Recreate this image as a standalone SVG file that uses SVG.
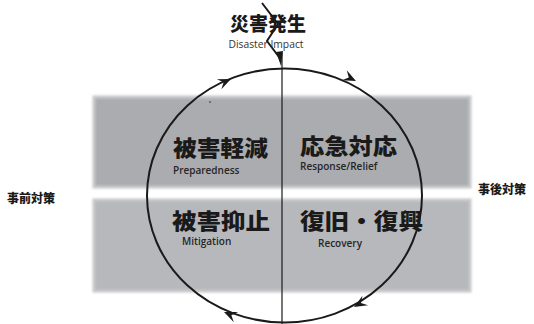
<svg xmlns="http://www.w3.org/2000/svg" width="534" height="324" viewBox="0 0 534 324">
<style>
.band{stroke:#c6c7c9;stroke-width:3}
.jp{font-family:"Noto Sans CJK JP","Noto Sans CJK SC",sans-serif;font-weight:900;fill:#1a1a1a}
.en{font-family:"Open Sans","Liberation Sans",sans-serif;font-weight:600;fill:#262626}
.line{fill:none;stroke:#1a1a1a}
.ah{fill:#1a1a1a}
</style>
<defs>
<filter id="soft" x="-5%" y="-10%" width="110%" height="120%"><feGaussianBlur stdDeviation="1"/></filter>
<path id="head" d="M0,0 L-13,-5.5 L-8,0 L-13,5.5 Z"/>
</defs>
<rect width="534" height="324" fill="#ffffff"/>
<g id="band-top"><rect class="band" x="94" y="97" width="376" height="90" fill="#aaacaf" filter="url(#soft)"/></g>
<g id="band-bottom"><rect class="band" x="94" y="200" width="376" height="91" fill="#b7b8bb" filter="url(#soft)"/></g>
<g id="connectors">
<ellipse class="line" cx="284.5" cy="195.5" rx="137.5" ry="127" stroke-width="2"/>
<line class="line" x1="282" y1="53" x2="282" y2="324" stroke-width="1.2"/>
<polyline class="line" points="262,3 278,24 267,41 279,57" stroke-width="2"/>
<path class="ah" d="M276,52 L283,51 L281,66 Z"/>
<use href="#head" class="ah" transform="translate(231,79) rotate(-24)"/>
<use href="#head" class="ah" transform="translate(356,81) rotate(26)"/>
<use href="#head" class="ah" transform="translate(354,307) rotate(150)"/>
<use href="#head" class="ah" transform="translate(224,312) rotate(203)"/>
<circle cx="210" cy="102" r="0.8" fill="#222"/>
</g>
<g id="disaster">
<text class="jp" x="268" y="31" font-size="19" text-anchor="middle">災害発生</text>
<text x="266" y="48" font-family="'Open Sans','Liberation Sans',sans-serif" font-size="11" fill="#333" text-anchor="middle" textLength="75" lengthAdjust="spacingAndGlyphs">Disaster Impact</text>
</g>
<g id="preparedness">
<text class="jp" x="173" y="156" font-size="22" textLength="95" lengthAdjust="spacingAndGlyphs">被害軽減</text>
<text class="en" x="173" y="174" font-size="10">Preparedness</text>
</g>
<g id="response">
<text class="jp" x="300" y="154" font-size="22" textLength="97" lengthAdjust="spacingAndGlyphs">応急対応</text>
<text class="en" x="300" y="170" font-size="10">Response/Relief</text>
</g>
<g id="mitigation">
<text class="jp" x="172" y="229" font-size="22" textLength="98" lengthAdjust="spacingAndGlyphs">被害抑止</text>
<text class="en" x="182" y="245" font-size="10">Mitigation</text>
</g>
<g id="recovery">
<text class="jp" x="300" y="229" font-size="22" textLength="123" lengthAdjust="spacingAndGlyphs">復旧・復興</text>
<text class="en" x="318" y="247" font-size="10">Recovery</text>
</g>
<g id="pre-measures"><text class="jp" x="7" y="203" font-size="12" font-weight="700">事前対策</text></g>
<g id="post-measures"><text class="jp" x="478" y="194" font-size="12" font-weight="700">事後対策</text></g>
</svg>
